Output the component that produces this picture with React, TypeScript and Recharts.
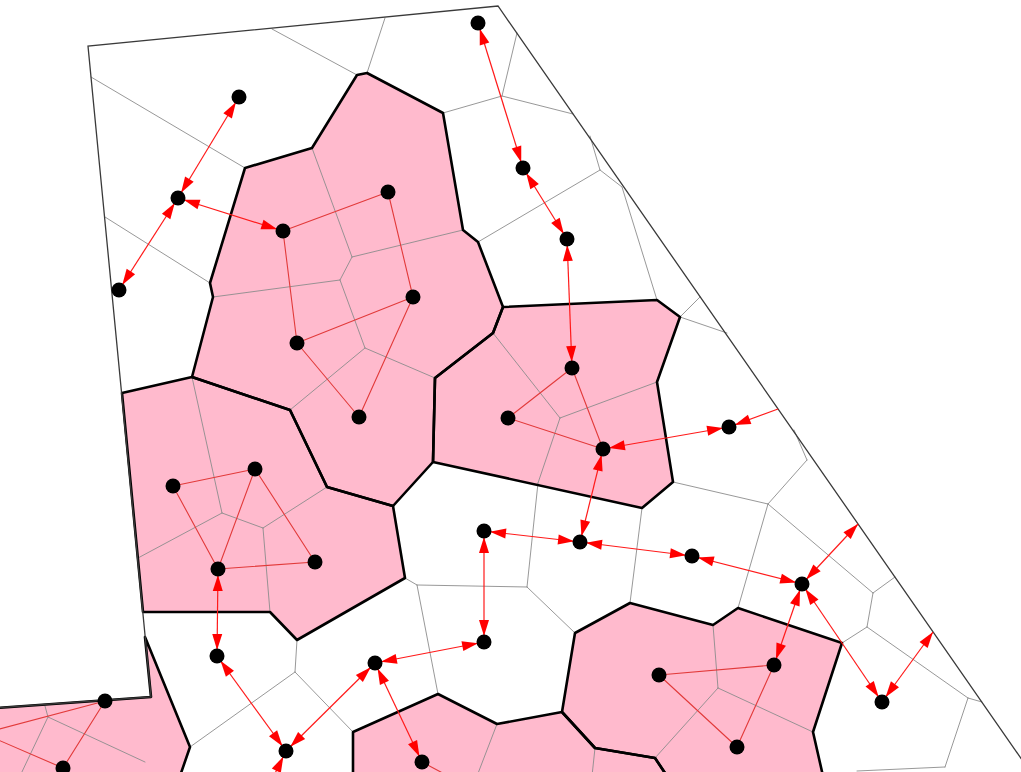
import React from 'react';
import { ScatterChart, Scatter, XAxis, YAxis } from 'recharts';

type Pt = { x: number; y: number };

const W = 1021;
const H = 772;
const DOT_R = 7.5;
const HEAD_LEN = 16;
const HEAD_W = 5;

// sites (black dots)
const sites: Pt[] = [
  { x: 239, y: 97 }, { x: 178, y: 198 }, { x: 119, y: 290 }, { x: 283, y: 231 },
  { x: 388, y: 192 }, { x: 413, y: 297 }, { x: 297, y: 343 }, { x: 359, y: 417 },
  { x: 478, y: 23 }, { x: 523, y: 168 }, { x: 567, y: 239 }, { x: 572, y: 368 },
  { x: 508, y: 418 }, { x: 603, y: 449 }, { x: 729, y: 427 }, { x: 173, y: 486 },
  { x: 255, y: 469 }, { x: 315, y: 562 }, { x: 218, y: 569 }, { x: 484, y: 531 },
  { x: 580, y: 542 }, { x: 692, y: 556 }, { x: 802, y: 584 }, { x: 217, y: 656 },
  { x: 484, y: 642 }, { x: 375, y: 663 }, { x: 286, y: 751 }, { x: 105, y: 701 },
  { x: 63, y: 768 }, { x: 659, y: 675 }, { x: 774, y: 665 }, { x: 737, y: 747 },
  { x: 882, y: 702 }, { x: 422, y: 762 },
];

// outer domain outline
const boundary: Pt[] = [
  { x: -4, y: 708 }, { x: 151, y: 697 }, { x: 88, y: 46 }, { x: 498, y: 6 }, { x: 1036, y: 780 },
];

// merged (pink) regions
const clusterA: Pt[] = [
  { x: 245, y: 168 }, { x: 312, y: 148 }, { x: 357, y: 75 }, { x: 367, y: 73 }, { x: 443, y: 113 },
  { x: 463, y: 230 }, { x: 478, y: 242 }, { x: 503, y: 307 }, { x: 493, y: 333 }, { x: 435, y: 378 },
  { x: 433, y: 462 }, { x: 393, y: 506 }, { x: 327, y: 487 }, { x: 290, y: 410 }, { x: 192, y: 377 },
  { x: 213, y: 297 }, { x: 210, y: 283 },
];
const clusterB: Pt[] = [
  { x: 503, y: 307 }, { x: 657, y: 300 }, { x: 680, y: 317 }, { x: 657, y: 382 }, { x: 673, y: 482 },
  { x: 642, y: 508 }, { x: 433, y: 462 }, { x: 435, y: 378 }, { x: 493, y: 333 },
];
const clusterC: Pt[] = [
  { x: 122, y: 393 }, { x: 192, y: 377 }, { x: 290, y: 410 }, { x: 327, y: 487 }, { x: 393, y: 506 },
  { x: 405, y: 578 }, { x: 297, y: 640 }, { x: 270, y: 612 }, { x: 143, y: 612 },
];
const clusterD: Pt[] = [
  { x: -4, y: 708 }, { x: 151, y: 697 }, { x: 145, y: 637 }, { x: 190, y: 747 }, { x: 180, y: 776 },
  { x: -4, y: 776 },
];
const clusterE: Pt[] = [
  { x: 575, y: 633 }, { x: 630, y: 603 }, { x: 713, y: 625 }, { x: 738, y: 608 }, { x: 842, y: 643 },
  { x: 813, y: 732 }, { x: 823, y: 776 }, { x: 667, y: 776 }, { x: 655, y: 758 }, { x: 595, y: 748 },
  { x: 562, y: 712 },
];
const clusterF: Pt[] = [
  { x: 353, y: 776 }, { x: 353, y: 732 }, { x: 438, y: 694 }, { x: 497, y: 724 }, { x: 562, y: 712 },
  { x: 595, y: 748 }, { x: 655, y: 758 }, { x: 667, y: 776 },
];
const clusters = [clusterA, clusterB, clusterC, clusterD, clusterE, clusterF];

// thin voronoi cell edges [from, to]
const cellEdges: [Pt, Pt][] = [
  [{ x: 91, y: 77 }, { x: 245, y: 168 }], [{ x: 105, y: 217 }, { x: 210, y: 283 }],
  [{ x: 272, y: 29 }, { x: 357, y: 75 }], [{ x: 385, y: 18 }, { x: 367, y: 73 }],
  [{ x: 443, y: 113 }, { x: 502, y: 96 }], [{ x: 502, y: 96 }, { x: 517, y: 33 }],
  [{ x: 502, y: 96 }, { x: 573, y: 114 }], [{ x: 590, y: 136 }, { x: 600, y: 170 }],
  [{ x: 600, y: 170 }, { x: 622, y: 187 }], [{ x: 600, y: 170 }, { x: 478, y: 242 }],
  [{ x: 622, y: 187 }, { x: 657, y: 300 }], [{ x: 680, y: 317 }, { x: 700, y: 297 }],
  [{ x: 680, y: 317 }, { x: 727, y: 333 }],
  [{ x: 312, y: 148 }, { x: 352, y: 257 }], [{ x: 352, y: 257 }, { x: 463, y: 230 }],
  [{ x: 352, y: 257 }, { x: 340, y: 280 }], [{ x: 340, y: 280 }, { x: 213, y: 297 }],
  [{ x: 340, y: 280 }, { x: 365, y: 348 }], [{ x: 365, y: 348 }, { x: 290, y: 410 }],
  [{ x: 365, y: 348 }, { x: 435, y: 378 }],
  [{ x: 493, y: 333 }, { x: 560, y: 418 }], [{ x: 560, y: 418 }, { x: 657, y: 382 }],
  [{ x: 560, y: 418 }, { x: 538, y: 483 }],
  [{ x: 192, y: 377 }, { x: 222, y: 513 }], [{ x: 222, y: 513 }, { x: 138, y: 558 }],
  [{ x: 222, y: 513 }, { x: 263, y: 528 }], [{ x: 263, y: 528 }, { x: 327, y: 487 }],
  [{ x: 263, y: 528 }, { x: 270, y: 612 }],
  [{ x: 538, y: 483 }, { x: 527, y: 587 }], [{ x: 642, y: 508 }, { x: 630, y: 603 }],
  [{ x: 673, y: 482 }, { x: 768, y: 504 }], [{ x: 768, y: 504 }, { x: 807, y: 460 }],
  [{ x: 807, y: 460 }, { x: 794, y: 430 }], [{ x: 768, y: 504 }, { x: 738, y: 608 }],
  [{ x: 768, y: 504 }, { x: 873, y: 593 }], [{ x: 873, y: 593 }, { x: 895, y: 577 }],
  [{ x: 873, y: 593 }, { x: 867, y: 627 }], [{ x: 867, y: 627 }, { x: 842, y: 643 }],
  [{ x: 867, y: 627 }, { x: 968, y: 698 }], [{ x: 968, y: 698 }, { x: 982, y: 702 }],
  [{ x: 968, y: 698 }, { x: 945, y: 767 }], [{ x: 945, y: 767 }, { x: 857, y: 771 }],
  [{ x: 405, y: 578 }, { x: 417, y: 585 }], [{ x: 417, y: 585 }, { x: 527, y: 587 }],
  [{ x: 527, y: 587 }, { x: 575, y: 633 }], [{ x: 417, y: 585 }, { x: 438, y: 694 }],
  [{ x: 297, y: 640 }, { x: 295, y: 672 }], [{ x: 295, y: 672 }, { x: 190, y: 747 }],
  [{ x: 295, y: 672 }, { x: 353, y: 732 }],
  [{ x: 45, y: 706 }, { x: 48, y: 717 }], [{ x: 48, y: 717 }, { x: 20, y: 776 }],
  [{ x: 48, y: 717 }, { x: 145, y: 762 }],
  [{ x: 497, y: 724 }, { x: 477, y: 776 }], [{ x: 595, y: 748 }, { x: 592, y: 776 }],
  [{ x: 713, y: 625 }, { x: 718, y: 688 }], [{ x: 718, y: 688 }, { x: 813, y: 732 }],
  [{ x: 718, y: 688 }, { x: 655, y: 758 }],
];

// links inside pink regions (site index pairs)
const clusterLinks: [number, number][] = [
  [3, 4], [4, 5], [3, 6], [6, 5], [6, 7], [5, 7],
  [11, 12], [12, 13], [11, 13],
  [15, 16], [15, 18], [16, 18], [16, 17], [18, 17],
  [27, 28], [29, 30], [29, 31], [30, 31],
];
const clusterStubs: { from: number; to: Pt }[] = [
  { from: 27, to: { x: -4, y: 730 } },
  { from: 28, to: { x: -4, y: 739 } },
  { from: 33, to: { x: 452, y: 778 } },
];

// double-headed arrows between sites
const arrowLinks: [number, number][] = [
  [0, 1], [1, 2], [1, 3], [8, 9], [9, 10], [10, 11], [13, 14], [13, 20],
  [19, 20], [20, 21], [21, 22], [19, 24], [24, 25], [25, 26], [25, 33],
  [23, 18], [23, 26], [22, 30], [22, 32],
];
// arrows to the outline / off the picture
const edgeArrows: { from: number; to: Pt; headSite: boolean; headEdge: boolean }[] = [
  { from: 14, to: { x: 778, y: 409 }, headSite: true, headEdge: false },
  { from: 22, to: { x: 858, y: 524 }, headSite: true, headEdge: true },
  { from: 32, to: { x: 933, y: 632 }, headSite: true, headEdge: true },
  { from: 26, to: { x: 262, y: 800 }, headSite: true, headEdge: false },
];

const arrows = [
  ...arrowLinks.map(([i, j]) => ({ a: sites[i], b: sites[j], headA: true, headB: true, offB: DOT_R })),
  ...edgeArrows.map((e) => ({ a: sites[e.from], b: e.to, headA: e.headSite, headB: e.headEdge, offB: 0 })),
];

const edgePoints = cellEdges.flat();
const linkPoints = [
  ...clusterLinks.flatMap(([i, j]) => [sites[i], sites[j]]),
  ...clusterStubs.flatMap((s) => [sites[s.from], s.to]),
];
const arrowPoints = arrows.flatMap((a) => [a.a, a.b]);

const noDot = () => <g />;

const pairLines = (stroke: string, width: number) => (props: any) => {
  const pts: Pt[] = props.points;
  const out = [];
  for (let i = 0; i + 1 < pts.length; i += 2) {
    out.push(
      <line key={i} x1={pts[i].x} y1={pts[i].y} x2={pts[i + 1].x} y2={pts[i + 1].y}
        stroke={stroke} strokeWidth={width} strokeLinecap="round" />
    );
  }
  return <g>{out}</g>;
};

const head = (tip: Pt, from: Pt, off: number, key: string) => {
  const dx = tip.x - from.x;
  const dy = tip.y - from.y;
  const len = Math.hypot(dx, dy) || 1;
  const ux = dx / len;
  const uy = dy / len;
  const tx = tip.x - ux * off;
  const ty = tip.y - uy * off;
  const bx = tx - ux * HEAD_LEN;
  const by = ty - uy * HEAD_LEN;
  const px = -uy * HEAD_W;
  const py = ux * HEAD_W;
  return (
    <polygon key={key} points={`${tx},${ty} ${bx + px},${by + py} ${bx - px},${by - py}`} fill="#ff0000" />
  );
};

const arrowLines = (props: any) => {
  const pts: Pt[] = props.points;
  const out = [];
  for (let k = 0; k < arrows.length; k++) {
    const p = pts[2 * k];
    const q = pts[2 * k + 1];
    if (!p || !q) continue;
    out.push(<line key={'l' + k} x1={p.x} y1={p.y} x2={q.x} y2={q.y} stroke="#ff1a1a" strokeWidth={1.2} />);
    if (arrows[k].headA) out.push(head(p, q, DOT_R - 1.5, 'a' + k));
    if (arrows[k].headB) out.push(head(q, p, arrows[k].offB ? DOT_R - 1.5 : 0, 'b' + k));
  }
  return <g>{out}</g>;
};

const polyFill = (props: any) => (
  <polygon points={props.points.map((p: Pt) => `${p.x},${p.y}`).join(' ')} fill="#ffbacd" stroke="none" />
);
const polyStroke = (props: any) => (
  <polygon points={props.points.map((p: Pt) => `${p.x},${p.y}`).join(' ')} fill="none"
    stroke="#000" strokeWidth={2.6} strokeLinejoin="round" />
);
const outline = (props: any) => (
  <polyline points={props.points.map((p: Pt) => `${p.x},${p.y}`).join(' ')} fill="none"
    stroke="#3a3a3a" strokeWidth={1.3} />
);

const dot = (p: any) => <circle cx={p.cx} cy={p.cy} r={DOT_R} fill="#000" />;

const App: React.FC = () => {
  return (
    <div style={{ position: 'absolute', left: 0, top: 0, width: W, height: H, background: '#fff' }}>
      <ScatterChart width={W} height={H} margin={{ top: 0, right: 0, bottom: 0, left: 0 }}>
        <XAxis type="number" dataKey="x" domain={[0, W]} allowDataOverflow hide />
        <YAxis type="number" dataKey="y" domain={[0, H]} allowDataOverflow reversed hide />
        {clusters.map((c, i) => (
          <Scatter key={'f' + i} data={c} shape={noDot} line={polyFill} isAnimationActive={false} />
        ))}
        <Scatter data={edgePoints} shape={noDot} line={pairLines('#8c8c8c', 0.9)} isAnimationActive={false} />
        {clusters.map((c, i) => (
          <Scatter key={'s' + i} data={c} shape={noDot} line={polyStroke} isAnimationActive={false} />
        ))}
        <Scatter data={boundary} shape={noDot} line={outline} isAnimationActive={false} />
        <Scatter data={linkPoints} shape={noDot} line={pairLines('#e23a3a', 1.1)} isAnimationActive={false} />
        <Scatter data={arrowPoints} shape={noDot} line={arrowLines} isAnimationActive={false} />
        <Scatter data={sites} shape={dot} isAnimationActive={false} />
      </ScatterChart>
    </div>
  );
};

export default App;
